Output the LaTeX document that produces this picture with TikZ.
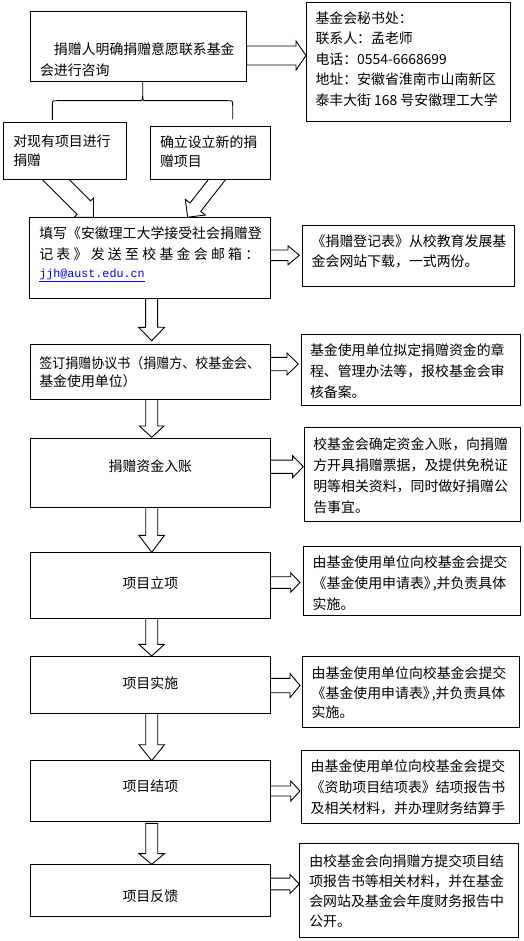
\documentclass[tikz,border=0pt]{standalone}
\usepackage{fontspec}
\setmainfont{Noto Sans CJK SC}
\newfontfamily\monof{Liberation Mono}
\usetikzlibrary{calc}
\pgfdeclarelayer{bg}
\pgfsetlayers{bg,main}
% box text: height, width, left pad, first baseline, baselineskip, text
\newcommand{\bt}[6]{\parbox[c][#1][t]{#2}{\fontsize{13.9pt}{#5}\selectfont\raggedright\setlength{\leftskip}{#3}\rule{0pt}{#4}#6}}
% centred one-line text: height, width, baseline, text
\newcommand{\bc}[4]{\parbox[c][#1][t]{#2}{\fontsize{13.9pt}{20pt}\selectfont\centering\rule{0pt}{#3}#4}}
% block arrow: start, tip, half shaft, half head, head length
\newcommand{\fatarrow}[5]{%
  \path let \p1=(#1), \p2=(#2) in \pgfextra{%
    \pgfmathsetmacro\faAng{atan2(\y2-\y1,\x2-\x1)}%
    \pgfmathsetmacro\faLen{veclen(\x2-\x1,\y2-\y1)}%
    \xdef\faAng{\faAng}\xdef\faLen{\faLen}\xdef\faX{\x1}\xdef\faY{\y1}};
  \begin{scope}[shift={(\faX,\faY)},rotate=\faAng]
    \draw[fatarr] (0pt,-#3pt) -- ({\faLen pt-#5pt},-#3pt) -- ({\faLen pt-#5pt},-#4pt)
      -- (\faLen pt,0pt) -- ({\faLen pt-#5pt},#4pt) -- ({\faLen pt-#5pt},#3pt) -- (0pt,#3pt) -- cycle;
  \end{scope}}
\begin{document}
\begin{tikzpicture}[x=1pt,y=-1pt,
  box/.style={draw, fill=white, line width=0.9pt, inner sep=0pt, outer sep=0pt, anchor=north west},
  fatarr/.style={draw, fill=white, line width=0.9pt, line join=miter},
  conn/.style={draw, line width=0.9pt}]
\useasboundingbox (0,0) rectangle (523,941);

% ---------- left column ----------
\node[box] (b1) at (30.7,11.7) {\bt{70pt}{216pt}{9.3pt}{42.5pt}{21.7pt}{\hspace*{13.9pt}捐赠人明确捐赠意愿联系基金\\会进行咨询}};
\node[box] (b2a) at (3.3,122.7) {\bt{56.6pt}{123.4pt}{10pt}{23.5pt}{19pt}{对现有项目进行\\捐赠}};
\node[box] (b2b) at (150.7,126) {\bt{53.3pt}{120pt}{9.3pt}{21.9pt}{19pt}{确立设立新的捐\\赠项目}};
\node[box] (b3) at (29.3,217.3) {\bt{81pt}{240.7pt}{10pt}{21.2pt}{20.5pt}{填写《安徽理工大学接受社会捐赠登\\\makebox[220pt][s]{记\hfill 表\hfill 》\hfill 发\hfill 送\hfill 至\hfill 校\hfill 基\hfill 金\hfill 会\hfill 邮\hfill 箱\hfill ：}\\[-2pt]{\monof\fontsize{11.7pt}{20pt}\selectfont\color{blue}\underline{jjh@aust.edu.cn}}}};
\node[box] (b4) at (30.7,344) {\bt{55.3pt}{239.3pt}{8.6pt}{24.5pt}{17.7pt}{\scalebox{0.935}[1]{签订捐赠协议书（捐赠方、校基金会、}\\基金使用单位）}};
\node[box] (b5) at (30.7,438.3) {\bc{69pt}{239.3pt}{32.9pt}{捐赠资金入账}};
\node[box] (b6) at (30.7,552.3) {\bc{66pt}{239.3pt}{36.2pt}{项目立项}};
\node[box] (b7) at (30.7,656) {\bc{57.3pt}{239.3pt}{32.5pt}{项目实施}};
\node[box] (b8) at (30.7,760.7) {\bc{60.3pt}{239.3pt}{31.2pt}{项目结项}};
\node[box] (b9) at (30.7,864.3) {\bc{51.7pt}{239.3pt}{37.6pt}{项目反馈}};

% ---------- right column ----------
\node[box] (rb1) at (306,2.7) {\bt{119pt}{204pt}{9.5pt}{20.8pt}{20.4pt}{基金会秘书处：\\联系人：孟老师\\电话：0554-6668699\\地址：安徽省淮南市山南新区\\泰丰大街 168 号安徽理工大学}};
\node[box] (rb3) at (302,225) {\bt{61pt}{212.3pt}{9.7pt}{21.9pt}{20pt}{《捐赠登记表》从校教育发展基\\金会网站下载，一式两份。}};
\node[box] (rb4) at (301.3,334) {\bt{71.3pt}{218.7pt}{8.7pt}{21.2pt}{21.3pt}{基金使用单位拟定捐赠资金的章\\程、管理办法等，报校基金会审\\核备案。}};
\node[box] (rb5) at (304,427.3) {\bt{94.4pt}{216pt}{9.3pt}{21.9pt}{21.1pt}{校基金会确定资金入账，向捐赠\\方开具捐赠票据，及提供免税证\\明等相关资料，同时做好捐赠公\\告事宜。}};
\node[box] (rb6) at (303.3,546.7) {\bt{69pt}{216.7pt}{9.4pt}{21.2pt}{20.7pt}{由基金使用单位向校基金会提交\\《基金使用申请表》\kern-5pt,并负责具体\\实施。}};
\node[box] (rb7) at (302,656) {\bt{71.3pt}{217.3pt}{9.7pt}{22.5pt}{19.7pt}{由基金使用单位向校基金会提交\\《基金使用申请表》\kern-5pt,并负责具体\\实施。}};
\node[box] (rb8) at (301.3,750.7) {\bt{72.6pt}{218pt}{9.4pt}{21.2pt}{20.8pt}{由基金使用单位向校基金会提交\\《资助项目结项表》结项报告书\\及相关材料，并办理财务结算手}};
\node[box] (rb9) at (299.3,843.3) {\bt{94pt}{219pt}{10pt}{23.6pt}{20pt}{由校基金会向捐赠方提交项目结\\项报告书等相关材料，并在基金\\会网站及基金会年度财务报告中\\公开。}};

% ---------- brace from b1 to the two choices ----------
\coordinate (bs) at ($(b1.south)+(4,0)$);
\coordinate (bL) at ($(b2a.north)+(-12.7,-2.7)$);
\coordinate (bR) at ($(b2b.north)+(22,-6.7)$);
\draw[conn] (bs) -- (142.7,96) .. controls (142.7,100.7) .. (138,100.7) -- (57,100.7)
  .. controls (bL |- 0,100.7) .. (52.3,105.5) -- (bL);
\draw[conn] (142.7,96) .. controls (142.7,100.7) .. (147.4,100.7) -- (228,100.7)
  .. controls (bR |- 0,100.7) .. (232.7,105.5) -- (bR);

% ---------- block arrows ----------
\begin{pgfonlayer}{bg}
\fill[white] (0,0) rectangle (523,941);
% right-pointing
\fatarrow{$(b1.east)+(0,8.8)$}{$(rb1.west)+(0,-6.7)$}{9.5}{14.5}{10}
\fatarrow{$(b3.east)+(0,-2.5)$}{$(rb3.west)+(-2.7,-0.2)$}{5.35}{9.5}{11.3}
\fatarrow{$(b4.east)+(0,-7.65)$}{$(rb4.west)+(-3,-5.65)$}{6.7}{11}{11.3}
\fatarrow{$(b5.east)+(0,-6.1)$}{$(rb5.west)+(-0.7,-7.8)$}{6.65}{11}{10.7}
\fatarrow{$(b6.east)+(0,-2.8)$}{$(rb6.west)+(-3.3,1.3)$}{5.8}{9.7}{9.3}
\fatarrow{$(b7.east)+(0,0.85)$}{$(rb7.west)+(-2,-6.15)$}{7.2}{12}{10}
\fatarrow{$(b8.east)+(0,0.15)$}{$(rb8.west)+(-1.3,4)$}{5}{10}{9.3}
\fatarrow{$(b9.east)+(0,-6.15)$}{$(rb9.west)+(0,-6.3)$}{5.85}{9.5}{9.3}
% down-pointing
\fatarrow{$(b3.south)+(2,0)$}{$(b4.north)+(1.35,-3.3)$}{6}{13}{13.4}
\fatarrow{$(b4.south)+(1.35,0)$}{$(b5.north)+(1.35,-1)$}{6}{12.3}{11.3}
\fatarrow{$(b5.south)+(1.35,0)$}{$(b6.north)+(1.35,0)$}{6}{12.8}{17}
\fatarrow{$(b6.south)+(1.35,0)$}{$(b7.north)+(1.35,0)$}{6}{12.8}{11.7}
\fatarrow{$(b7.south)+(1.35,0)$}{$(b8.north)+(1.35,0)$}{6}{12.8}{16}
\fatarrow{$(b8.south)+(1.35,2.3)$}{$(b9.north)+(1.35,0)$}{6}{12.8}{10.7}
% diagonal
\fatarrow{$(b2a.south)+(-21.5,-12)$}{$(b3.north west)+(64.2,0)$}{9.5}{13.7}{13.7}
\fatarrow{$(b2b.south)+(15.7,-11.8)$}{$(b3.north west)+(158.2,0)$}{6.8}{12.7}{12.7}
\end{pgfonlayer}
\end{tikzpicture}
\end{document}
